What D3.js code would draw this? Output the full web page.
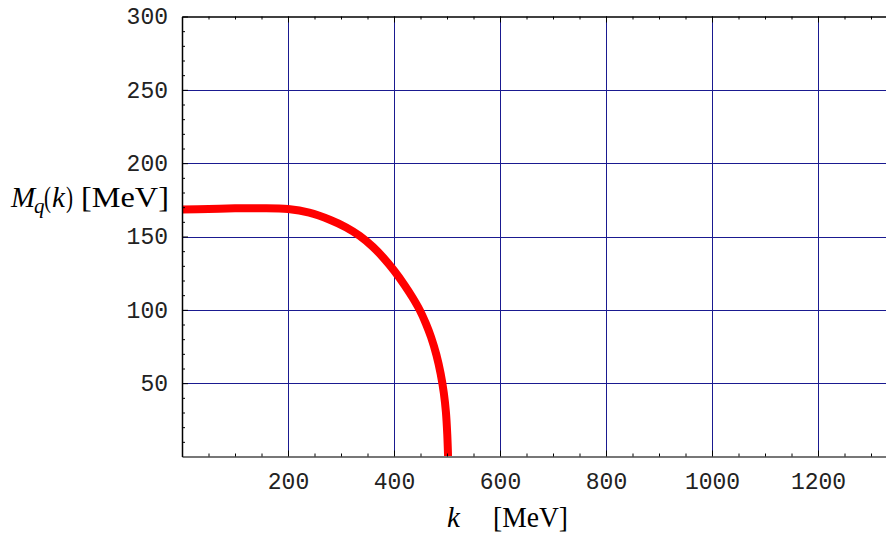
<!DOCTYPE html>
<html><head><meta charset="utf-8">
<script src="https://cdn.jsdelivr.net/npm/d3@7"></script>
<style>
html,body{margin:0;padding:0;background:#fff;}
svg{display:block;}
</style></head>
<body>
<svg id="c" width="886" height="538"></svg>
<script>
// Data
const kValues = [0, 50, 100, 150, 200, 240, 280, 310, 335, 360, 380, 400, 420, 435, 448, 460, 470, 480, 488, 494, 498, 500.5, 502];
const mValues = [168.4, 168.8, 169.2, 169.3, 168.7, 166.3, 161.3, 156.2, 150.5, 143, 135.5, 126.8, 116.8, 108.4, 100.2, 90.8, 81.3, 69.3, 56.5, 43.3, 30.1, 15.1, 0];
const xMajorTicks = [200, 400, 600, 800, 1000, 1200];
const yMajorTicks = [50, 100, 150, 200, 250, 300];
const xMinorStep = 50;
const yMinorStep = 10;
const xDomain = [0, 1330];
const yDomain = [0, 300];

const svg = d3.select("#c");
const pLeft = 182, pBottom = 456.5, pTop = 16.5, pRight = 182 + 1330 * 0.53;
const x = d3.scaleLinear().domain(xDomain).range([pLeft, pRight]);
const y = d3.scaleLinear().domain(yDomain).range([pBottom, pTop]);

const xMinor = d3.range(xMinorStep, xDomain[1], xMinorStep).filter(v => !xMajorTicks.includes(v));
const yMinor = d3.range(yMinorStep, yDomain[1], yMinorStep).filter(v => !yMajorTicks.includes(v));

// Grid
const grid = svg.append("g");
grid.selectAll("line.v").data(xMajorTicks).join("line")
  .attr("x1", d => Math.round(x(d)) + 0.5).attr("x2", d => Math.round(x(d)) + 0.5)
  .attr("y1", pTop).attr("y2", pBottom)
  .attr("stroke", "#1a1a90").attr("stroke-width", 1);
grid.selectAll("line.h").data(yMajorTicks.filter(v => v < yDomain[1])).join("line")
  .attr("y1", d => Math.round(y(d)) + 0.5).attr("y2", d => Math.round(y(d)) + 0.5)
  .attr("x1", pLeft).attr("x2", pRight)
  .attr("stroke", "#1a1a90").attr("stroke-width", 1);

// Curve
svg.append("path").datum(mValues)
  .attr("d", d3.line().x((d, i) => x(kValues[i])).y(d => y(d)).curve(d3.curveCatmullRom.alpha(0.5)))
  .attr("fill", "none").attr("stroke", "#ff0000").attr("stroke-width", 8)
  .attr("stroke-linecap", "butt").attr("stroke-linejoin", "round");

// Axes
const tickFont = "'Liberation Mono', 'DejaVu Sans Mono', monospace";
function styleAxis(g, color, width) {
  g.select(".domain").attr("stroke", color).attr("stroke-width", width);
  g.selectAll(".tick line").attr("stroke", "#000");
  g.selectAll(".tick text").attr("font-family", tickFont).attr("font-size", 23).attr("fill", "#222");
}
const gb = svg.append("g").attr("transform", `translate(0,${pBottom})`)
  .call(d3.axisBottom(x).tickValues(xMajorTicks).tickSize(-6).tickPadding(16).tickFormat(d3.format("d")).tickSizeOuter(0));
styleAxis(gb, "#777", 2);
svg.append("g").attr("transform", `translate(0,${pBottom})`)
  .call(d3.axisBottom(x).tickValues(xMinor).tickSize(-3).tickFormat("").tickSizeOuter(0))
  .call(g => { g.select(".domain").remove(); g.selectAll(".tick line").attr("stroke", "#000"); });
const gt = svg.append("g").attr("transform", `translate(0,${pTop})`)
  .call(d3.axisTop(x).tickValues(xMajorTicks).tickSize(-6).tickFormat("").tickSizeOuter(0));
styleAxis(gt, "#000", 1.5);
svg.append("g").attr("transform", `translate(0,${pTop})`)
  .call(d3.axisTop(x).tickValues(xMinor).tickSize(-3).tickFormat("").tickSizeOuter(0))
  .call(g => { g.select(".domain").remove(); g.selectAll(".tick line").attr("stroke", "#000"); });
const gl = svg.append("g").attr("transform", `translate(${pLeft},0)`)
  .call(d3.axisLeft(y).tickValues(yMajorTicks).tickSize(-6).tickPadding(14).tickFormat(d3.format("d")).tickSizeOuter(0));
styleAxis(gl, "#000", 1.5);
svg.append("g").attr("transform", `translate(${pLeft},0)`)
  .call(d3.axisLeft(y).tickValues(yMinor).tickSize(-3).tickFormat("").tickSizeOuter(0))
  .call(g => { g.select(".domain").remove(); g.selectAll(".tick line").attr("stroke", "#000"); });

// Axis titles
const serif = "'Liberation Serif', 'Times New Roman', serif";
const yt = svg.append("text").attr("y", 207)
  .attr("font-family", serif).attr("font-size", 29).attr("fill", "#000");
yt.append("tspan").attr("x", 11).attr("font-style", "italic").text("M");
yt.append("tspan").attr("x", 34).attr("font-style", "italic").attr("font-size", 21).attr("dy", 6).text("q");
yt.append("tspan").attr("x", 44).attr("dy", -6).attr("textLength", 7).attr("lengthAdjust", "spacingAndGlyphs").text("(");
yt.append("tspan").attr("x", 52).attr("font-style", "italic").text("k");
yt.append("tspan").attr("x", 66).attr("textLength", 7).attr("lengthAdjust", "spacingAndGlyphs").text(")");
yt.append("tspan").attr("x", 81).attr("textLength", 88).attr("lengthAdjust", "spacingAndGlyphs").text("[MeV]");

const xt = svg.append("text").attr("y", 527)
  .attr("font-family", serif).attr("font-size", 29).attr("fill", "#000");
xt.append("tspan").attr("x", 447).attr("font-style", "italic").text("k");
xt.append("tspan").attr("x", 493).attr("textLength", 75).attr("lengthAdjust", "spacingAndGlyphs").text("[MeV]");
</script>
</body></html>
